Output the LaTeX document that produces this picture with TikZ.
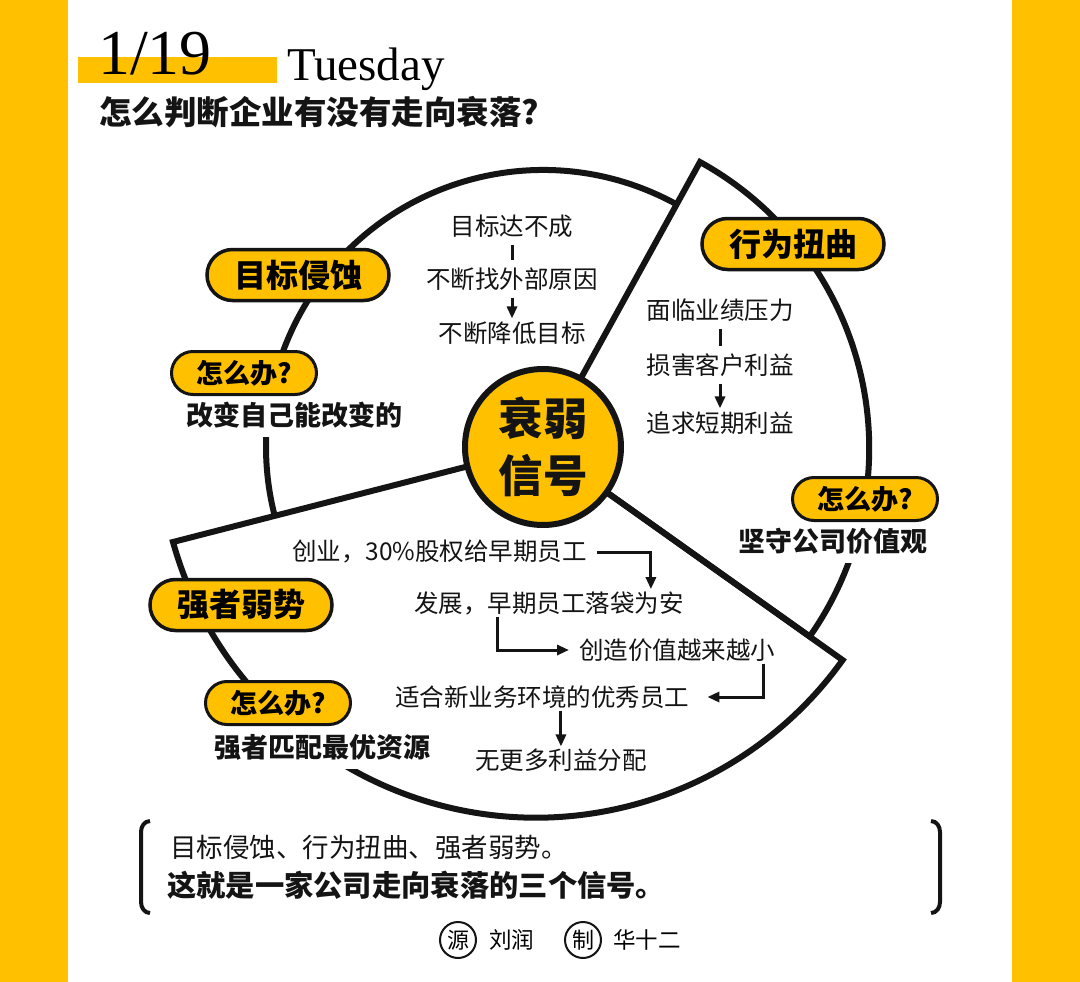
\documentclass[tikz,border=0pt]{standalone}
\usepackage{fontspec}
\setmainfont{Liberation Serif}
\newfontfamily\cjk{Noto Sans CJK SC}
\usetikzlibrary{arrows.meta, shapes.misc, positioning, calc}
\definecolor{sgold}{RGB}{255,192,  0}
\definecolor{ink}  {RGB}{ 20, 20, 20}
\tikzset{
  % Yellow title pill
  PL/.style={rounded rectangle,draw=ink,fill=sgold,line width=3.5pt,
             minimum width=#1,minimum height=51pt,inner sep=0pt,
             font=\cjk\bfseries\fontsize{32}{32}\selectfont},
  PL/.default=182pt,
  % Small question pill
  QL/.style={rounded rectangle,draw=ink,fill=sgold,line width=3pt,
             minimum width=#1,minimum height=43pt,inner sep=0pt,
             font=\cjk\bfseries\fontsize{27}{27}\selectfont},
  QL/.default=145pt,
  % Bold answer line
  AT/.style={fill=white,inner xsep=4pt,inner ysep=9pt,text=ink,
             font=\cjk\bfseries\fontsize{27}{27}\selectfont},
  % Plain step text
  ST/.style={inner sep=2pt,text=ink,font=\cjk\fontsize{24.5}{24.5}\selectfont},
  % Pie outline
  Rim/.style={draw=ink,line width=6pt,line join=miter},
  % Arrows
  Arr/.style={-{Triangle[length=12pt,width=10pt]},line width=3pt,color=ink},
  Lnk/.style={line width=3pt,color=ink},
}
\begin{document}
\begin{tikzpicture}[x=1pt,y=1pt]
% ── page ─────────────────────────────────
\useasboundingbox (0,0) rectangle (1080,-982);
\fill[white] (0,0) rectangle (1080,-982);
\fill[sgold] (0,0) rectangle (68,-982);
\fill[sgold] (1012,0) rectangle (1080,-982);
% ── header ───────────────────────────────
\fill[sgold] (78,-57) rectangle (277,-83);
\node[anchor=base west,inner sep=0pt,font=\fontsize{64}{64}\selectfont]
at (98,-75) (date) {1/19};
\node[anchor=base west,inner sep=0pt,font=\fontsize{47}{47}\selectfont]
at (287,-81) (day) {Tuesday};
\node[anchor=west,inner sep=0pt,text=ink,
      font=\cjk\bfseries\fontsize{32.5}{32.5}\selectfont]
at (99,-112) (title) {怎么判断企业有没有走向衰落?};
% ── pie ──────────────────────────────────
\coordinate (C)  at (543,-447);
\coordinate (ur) at (700,-162);
\coordinate (lf) at (173,-542);
\coordinate (lr) at (843,-660);
\draw[Rim] (C) -- (ur) arc[start angle=61.15,end angle=-35.1,radius=327] -- (C);
\draw[Rim] (C) -- (lf) arc[start angle=195.6,end angle=324.4,radius=377] -- (C);
\draw[Rim] ($(C)!277pt!(ur)$) arc[start angle=61.15,end angle=194.4,radius=277];
\node[circle,draw=ink,fill=sgold,line width=6pt,minimum size=156pt,
      inner sep=0pt,align=center,text=ink,
      font=\cjk\bfseries\fontsize{44.5}{57}\selectfont]
at (C) (core) {衰弱\\信号};
% ── goal erosion ─────────────────────────
\node[AT] at (294,-415) (goala) {改变自己能改变的};
\node[PL] at (298,-275) (goal)  {目标侵蚀};
\node[QL] at (244,-373) (goalq) {怎么办?};
\node[ST] at (512,-226) (g1) {目标达不成};
\node[ST] at (512,-279) (g2) {不断找外部原因};
\node[ST] at (512,-333) (g3) {不断降低目标};
\draw[Lnk,shorten <=5pt,shorten >=5pt] (g1) -- (g2);
\draw[Arr,shorten <=5pt,shorten >=1pt] (g2) -- (g3);
% ── behaviour distortion ─────────────────
\node[AT] at (833,-541) (acta) {坚守公司价值观};
\node[PL] at (793,-244) (act)  {行为扭曲};
\node[QL] at (865,-499) (actq) {怎么办?};
\node[ST] at (720,-310) (d1) {面临业绩压力};
\node[ST] at (720,-365) (d2) {损害客户利益};
\node[ST] at (720,-423) (d3) {追求短期利益};
\draw[Lnk,shorten <=5pt,shorten >=5pt] (d1) -- (d2);
\draw[Arr,shorten <=5pt,shorten >=1pt] (d2) -- (d3);
% ── strong made weak ─────────────────────
\node[AT] at (322,-747) (stra) {强者匹配最优资源};
\node[PL] at (241,-605) (str)  {强者弱势};
\node[QL] at (278,-703) (strq) {怎么办?};
\node[ST,anchor=west] at (290,-552) (b1) {创业，30\%股权给早期员工};
\node[ST,anchor=west] at (412,-603) (b2) {发展，早期员工落袋为安};
\node[ST,anchor=west] at (577,-650) (b3) {创造价值越来越小};
\node[ST,anchor=west] at (393,-697) (b4) {适合新业务环境的优秀员工};
\node[ST,anchor=west] at (473,-760) (b5) {无更多利益分配};
\draw[Arr] ([xshift=8pt]b1.east) -| ([xshift=-35pt]b2.north east);
\draw[Arr,shorten >=8pt] ([xshift=85pt]b2.south west) |- (b3.west);
\draw[Arr,shorten >=16pt] ([xshift=186pt]b3.south west) |- (b4.east);
\draw[Arr] (b5.north |- b4.south) -- (b5.north);
% ── summary ──────────────────────────────
\draw[line width=4pt,color=ink] (150,-821) to[out=180,in=90] (141,-832)
  -- (141,-902) to[out=-90,in=180] (150,-913);
\draw[line width=4pt,color=ink] (931,-821) to[out=0,in=90] (940,-832)
  -- (940,-902) to[out=-90,in=0] (931,-913);
\node[anchor=west,inner sep=0pt,text=ink,font=\cjk\fontsize{26.5}{26.5}\selectfont]
at (170,-848) (sum1) {目标侵蚀、行为扭曲、强者弱势。};
\node[anchor=west,inner sep=0pt,text=ink,
      font=\cjk\bfseries\fontsize{29.3}{29.3}\selectfont]
at (167,-885) (sum2) {这就是一家公司走向衰落的三个信号。};
% ── credits ──────────────────────────────
\node[circle,draw=ink,line width=2pt,minimum size=36pt,inner sep=0pt,
      font=\cjk\fontsize{22}{22}\selectfont] at (458,-940) (src) {源};
\node[right=12pt of src,inner sep=0pt,font=\cjk\fontsize{22.5}{22.5}\selectfont]
(srcn) {刘润};
\node[circle,draw=ink,line width=2pt,minimum size=36pt,inner sep=0pt,
      font=\cjk\fontsize{22}{22}\selectfont] at (583,-940) (mak) {制};
\node[right=11pt of mak,inner sep=0pt,font=\cjk\fontsize{22.5}{22.5}\selectfont]
(makn) {华十二};
\end{tikzpicture}
\end{document}
